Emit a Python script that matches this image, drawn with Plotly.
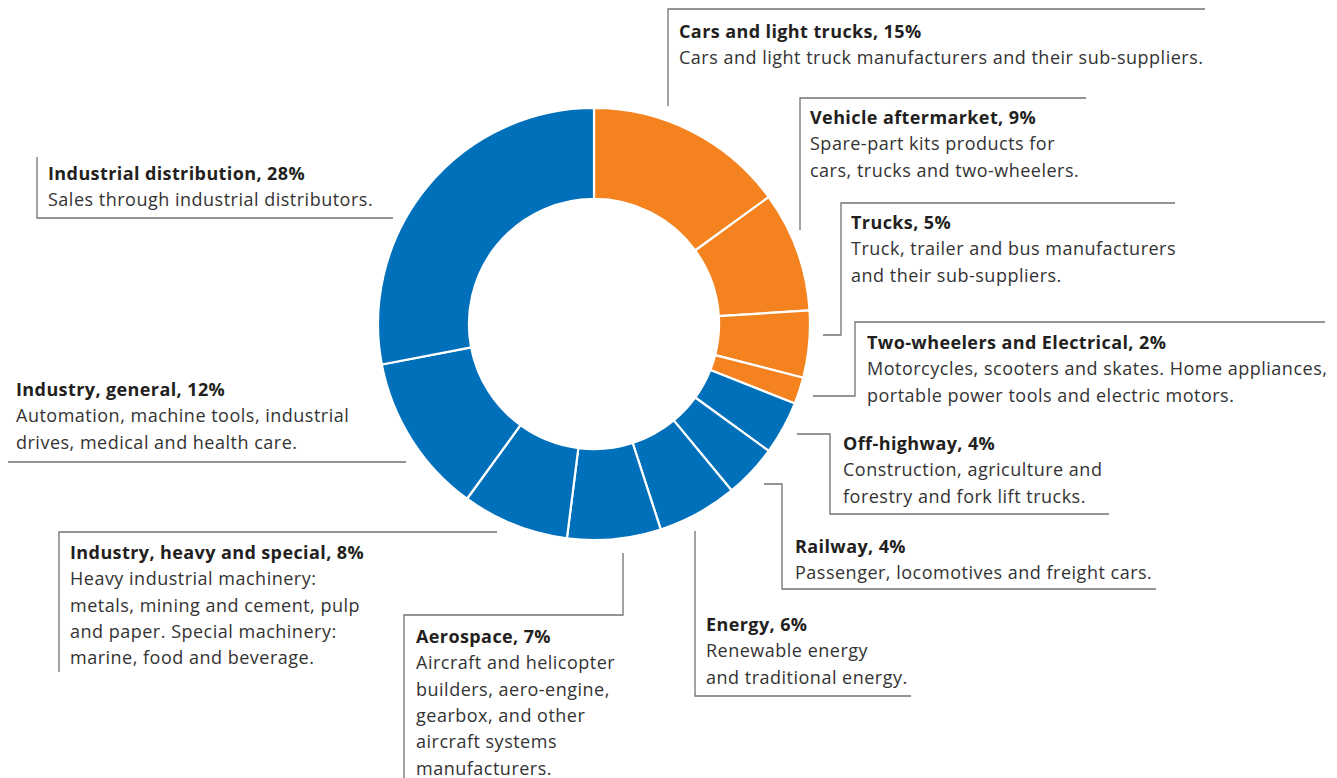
import plotly.graph_objects as go

W, H = 1337, 778
OFF = 8  # page body margin, so the figure div starts at (8, 8)

# segment data (clockwise from 12 o'clock)
segments = ['Cars and light trucks', 'Vehicle aftermarket', 'Trucks', 'Two-wheelers and Electrical',
            'Off-highway', 'Railway', 'Energy', 'Aerospace', 'Industry, heavy and special',
            'Industry, general', 'Industrial distribution']
shares = [15, 9, 5, 2, 4, 4, 6, 7, 8, 12, 28]
business = ['auto', 'auto', 'auto', 'auto', 'ind', 'ind', 'ind', 'ind', 'ind', 'ind', 'ind']
descriptions = [
    ['Cars and light truck manufacturers and their sub-suppliers.'],
    ['Spare-part kits products for', 'cars, trucks and two-wheelers.'],
    ['Truck, trailer and bus manufacturers', 'and their sub-suppliers.'],
    ['Motorcycles, scooters and skates. Home appliances,', 'portable power tools and electric motors.'],
    ['Construction, agriculture and', 'forestry and fork lift trucks.'],
    ['Passenger, locomotives and freight cars.'],
    ['Renewable energy', 'and traditional energy.'],
    ['Aircraft and helicopter', 'builders, aero-engine,', 'gearbox, and other', 'aircraft systems', 'manufacturers.'],
    ['Heavy industrial machinery:', 'metals, mining and cement, pulp', 'and paper. Special machinery:',
     'marine, food and beverage.'],
    ['Automation, machine tools, industrial', 'drives, medical and health care.'],
    ['Sales through industrial distributors.'],
]

colors = {'auto': '#F4831F', 'ind': '#0070BA'}

# label placement (page pixels): text left x, first line y, and leader polyline
label_pos = [
    (677, 31, [(668, 106), (668, 9), (1205, 9)]),
    (808, 117, [(800, 230), (800, 98), (1086, 98)]),
    (849, 222, [(823, 335), (841, 335), (841, 203), (1175, 203)]),
    (865, 342, [(813, 396), (855, 396), (855, 322), (1325, 322)]),
    (841, 443, [(797, 434), (830, 434), (830, 514), (1109, 514)]),
    (793, 546, [(764, 484), (782, 484), (782, 589), (1156, 589)]),
    (704, 624, [(695, 531), (695, 696), (911, 696)]),
    (414, 636, [(623, 553), (623, 615), (404, 615), (404, 780)]),
    (68, 552, [(497, 532), (59, 532), (59, 672)]),
    (14, 389, [(5, 371), (5, 462), (406, 462)]),
    (46, 173, [(37, 157), (37, 218), (393, 218)]),
]
LINE_H = 26.3

cx, cy, r = 594 - OFF, 324 - OFF, 216

fig = go.Figure()
fig.add_trace(go.Pie(
    labels=segments,
    values=shares,
    sort=False,
    direction='clockwise',
    rotation=0,
    hole=0.579,
    textinfo='none',
    hoverinfo='label+percent',
    marker=dict(colors=[colors[b] for b in business], line=dict(color='white', width=2.2)),
    domain=dict(x=[(cx - r) / W, (cx + r) / W], y=[(H - cy - r) / H, (H - cy + r) / H]),
    showlegend=False,
))

font_family = '"Open Sans", sans-serif'
for name, val, desc, (tx, ty, path) in zip(segments, shares, descriptions, label_pos):
    xs = [p[0] for p in path]
    ys = [p[1] for p in path]
    fig.add_trace(go.Scatter(x=xs, y=ys, mode='lines', line=dict(color='#707174', width=1.3),
                             hoverinfo='skip', showlegend=False))
    fig.add_annotation(x=tx, y=ty,
                       text=f'<span style="letter-spacing:0.4px"><b>{name}, {val}%</b></span>',
                       showarrow=False, xanchor='left', yanchor='middle', xref='x', yref='y',
                       font=dict(family=font_family, size=18, color='#231F20'))
    for i, line in enumerate(desc):
        fig.add_annotation(x=tx, y=ty + LINE_H * (i + 1),
                           text=f'<span style="letter-spacing:0.5px">{line}</span>',
                           showarrow=False, xanchor='left', yanchor='middle', xref='x', yref='y',
                           font=dict(family=font_family, size=18, color='#333333'))

fig.update_layout(
    width=W, height=H,
    margin=dict(l=0, r=0, t=0, b=0),
    paper_bgcolor='white', plot_bgcolor='white',
    xaxis=dict(range=[OFF, W + OFF], visible=False, fixedrange=True),
    yaxis=dict(range=[H + OFF, OFF], visible=False, fixedrange=True),
)

fig.write_html("out.html")
